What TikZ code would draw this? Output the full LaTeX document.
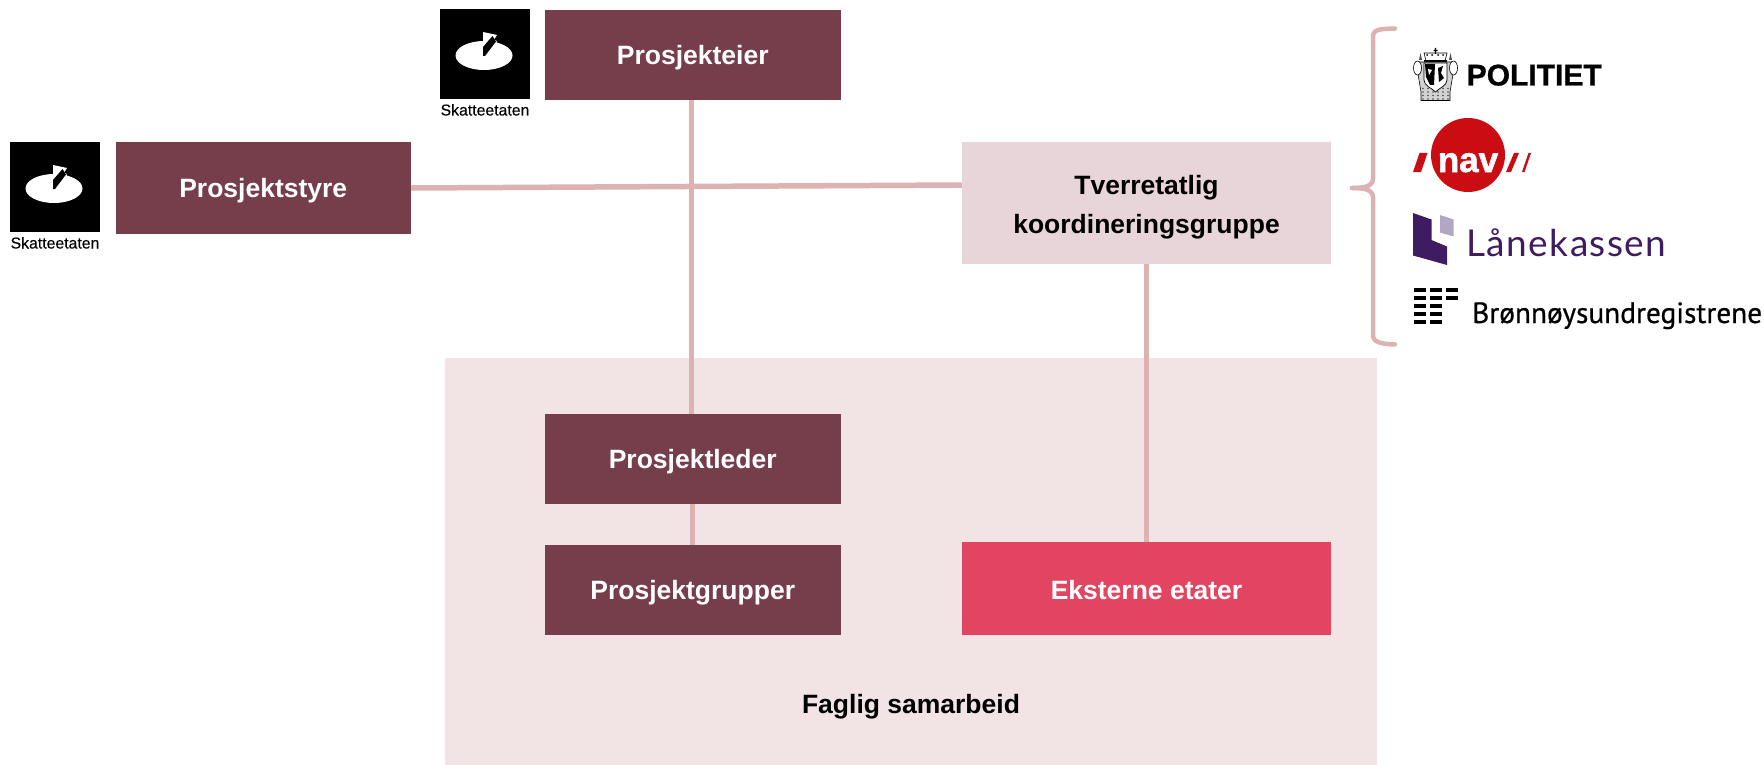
\documentclass[tikz,border=0pt]{standalone}
\usepackage{fontspec}
\setmainfont{Liberation Sans}
\newfontfamily\lanefont[LetterSpace=4]{Lato}
\newfontfamily\brregfont[FakeBold=0.6]{PT Sans}
\newfontfamily\heavyfont[FakeBold=1.6]{Liberation Sans Bold}
\newfontfamily\polfont[FakeBold=0.8]{Liberation Sans Bold}
\newfontfamily\skattefont[FakeBold=0.35]{Liberation Sans}
\definecolor{darkbox}{HTML}{763E4B}
\definecolor{palebox}{HTML}{E8D5DA}
\definecolor{redbox}{HTML}{E24562}
\definecolor{bgzone}{HTML}{F2E3E5}
\definecolor{linkcol}{HTML}{DDB2B2}
\definecolor{navred}{HTML}{C90D12}
\definecolor{lanedark}{HTML}{3F1B62}
\definecolor{lanepale}{HTML}{B3A5C4}
\tikzset{
  block/.style={rectangle,inner sep=0pt,font=\fontsize{26.5}{39}\selectfont\bfseries,align=center,text height=18.9pt,text depth=0pt},
  darkblock/.style={block,fill=darkbox,text=white,minimum width=295.5pt},
  link/.style={draw=linkcol,line width=5.5pt},
  bracepart/.style={draw=linkcol,line width=4.5pt,line cap=round,line join=round},
  skattecap/.style={inner sep=0pt,font=\fontsize{15.8}{16}\selectfont\skattefont,text=black,anchor=base},
  barmark/.style={fill=black},
}
\newcommand{\skattelogo}[3]{% x, y, name
  \begin{scope}[shift={(#1,#2)}]
    \fill[black] (0,0) rectangle (90,90);
    \fill[white] (44,46.5) ellipse [x radius=28.5,y radius=14.5];
    \fill[white] (43,33) -- (43,23) -- (57,26) -- (52,34) -- cycle;
    \fill[white] (45,36) -- (56,31) -- (58,36) -- (50,45) -- cycle;
    \fill[black] (43,47) -- (43,38) -- (52.5,27) -- (56,32.5) -- (45,47) -- cycle;
    \node[skattecap] (#3) at (45,106.5) {Skatteetaten};
  \end{scope}}
\begin{document}
\begin{tikzpicture}[x=1pt,y=-1pt]
\useasboundingbox (0,0) rectangle (1764,765);
\fill[bgzone] (445,358) rectangle (1377,765);
\node[darkblock,minimum height=90pt] (eier) at (692.75,55) {Prosjekteier};
\node[darkblock,minimum height=92pt] (styre) at (263.25,188) {Prosjektstyre};
\node[block,fill=palebox,text=black,minimum width=369pt,minimum height=122pt,text height=60pt] (tverr) at (1146.5,203) {Tverretatlig\\koordineringsgruppe};
\node[darkblock,minimum height=90pt] (leder) at (692.75,459) {Prosjektleder};
\node[darkblock,minimum height=90pt] (grupper) at (692.75,590) {Prosjektgrupper};
\node[block,fill=redbox,text=white,minimum width=369pt,minimum height=93pt,text height=22pt] (ekst) at (1146.5,588.5) {Eksterne etater};
\node[inner sep=0pt,font=\fontsize{26.5}{30}\selectfont\bfseries,text=black] (faglig) at (911,707) {Faglig samarbeid};
% connectors
\draw[link] (styre.east) -- ([yshift=18pt]tverr.west);
\draw[link] ([xshift=-1.5pt]eier.south) -- ([xshift=-1.5pt]leder.north);
\draw[link] ([xshift=-0.5pt]leder.south) -- ([xshift=-0.5pt]grupper.north);
\draw[link] (tverr.south) -- (ekst.north);
% bracket
\coordinate (tip) at (1352,188);
\draw[bracepart] (1395,28.5) .. controls (1380,29) and (1373,29) .. (1373,37) -- (1373,178) .. controls (1373,186) and (1366,188) .. (tip);
\draw[bracepart] (tip) .. controls (1366,188) and (1373,190) .. (1373,198) -- (1373,335) .. controls (1373,342) and (1380,344) .. (1395,344.5);
% Skatteetaten logos
\skattelogo{10}{142}{skattea}
\skattelogo{440}{9}{skatteb}
% Politiet crest
\begin{scope}[shift={(1413,48)}]
  \fill[gray!35,draw=black,line width=.6pt] (5,14) -- (40,14) -- (40,26) -- (37,44) -- (37,52.5) -- (8,52.5) -- (8,44) -- (5,26) -- cycle;
  \foreach \i in {0,...,5}{\foreach \j in {0,...,3}{\fill[black!70] (10+\i*5,40.5+\j*3.5) circle (.8);}}
  \fill[white,draw=black,line width=.6pt] (4.5,20) ellipse [x radius=4,y radius=7];
  \fill[white,draw=black,line width=.6pt] (40.5,20) ellipse [x radius=4,y radius=7];
  \fill[black!70] (6,12) -- (7.5,5) -- (9,12) -- cycle;
  \fill[black!70] (36,12) -- (37.5,5) -- (39,12) -- cycle;
  \fill[white,draw=black,line width=.7pt] (11,15) -- (34,15) -- (34,32) .. controls (34,38) and (26,40) .. (22.5,44) .. controls (19,40) and (11,38) .. (11,32) -- cycle;
  \fill[black] (12,16) -- (22,16) -- (21,37) -- (17,37) -- (13,29) -- cycle;
  \fill[black] (25,20) -- (30,18) -- (28,25) -- (31,30) -- (26,34) -- cycle;
  \fill[white] (15,21) -- (19,22) -- (16,27) -- cycle;
  \fill[white,draw=black,line width=.6pt] (11,5) -- (34,5) -- (32,13) -- (13,13) -- cycle;
  \fill[black] (11,12) rectangle (34,14.5);
  \fill[black] (14,7) circle (1) (19,7) circle (1) (25,7) circle (1) (30,7) circle (1);
  \fill[black] (21.8,0) rectangle (23.2,6) (20.5,2) rectangle (24.5,3.2);
\end{scope}
\node[inner sep=0pt,anchor=base west,font=\fontsize{30}{30}\selectfont\polfont,text=black] (polititxt) at (1466.5,85.5) {POLITIET};
% NAV
\fill[navred] (1468,155) circle (37);
\node[inner sep=0pt,anchor=base,font=\fontsize{35}{35}\selectfont\heavyfont,text=white] (navtxt) at (1468,172) {nav};
\fill[navred] (1413,172) -- (1421,172) -- (1427.5,153) -- (1419.5,153) -- cycle;
\fill[navred] (1506,172) -- (1511,172) -- (1519,153) -- (1514,153) -- cycle;
\fill[navred] (1522,172) -- (1524.5,172) -- (1531,153) -- (1528.5,153) -- cycle;
% Lanekassen
\fill[lanedark] (1413,213) -- (1431.5,219.5) -- (1431.5,240) -- (1447,246.5) -- (1447,265) -- (1413,255.5) -- cycle;
\fill[lanepale] (1440,215) -- (1453.5,219.5) -- (1453.5,236.5) -- (1440,232.5) -- cycle;
\node[inner sep=0pt,anchor=base west,font=\fontsize{37}{37}\selectfont\lanefont,text=lanedark] (lanetxt) at (1466,256) {Lånekassen};
% Bronnoysund
\foreach \r in {0,1,2,3,4}{
  \fill[barmark] (1414,288+\r*8.1) rectangle +(12,4);
  \fill[barmark] (1430,288+\r*8.1) rectangle +(12,4);
}
\foreach \r in {0,1}{
  \fill[barmark] (1446,288+\r*8.1) rectangle +(12,4);
}
\node[inner sep=0pt,anchor=base west,font=\fontsize{29.3}{30}\selectfont\brregfont,text=black] (brregtxt) at (1472,323) {Brønnøysundregistrene};
\end{tikzpicture}
\end{document}
